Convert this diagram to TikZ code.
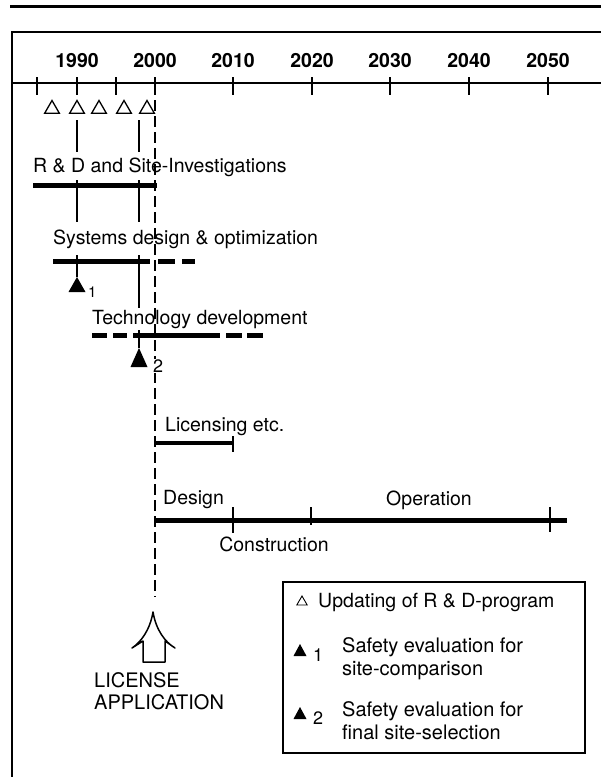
\documentclass[tikz,border=0pt]{standalone}
\usepackage{fontspec}
\setmainfont{TeX Gyre Heros}
\usetikzlibrary{shapes.geometric}
\begin{document}
\begin{tikzpicture}[x=1pt,y=-1pt,
  lbl/.style={inner sep=0pt, anchor=base west, font=\fontsize{19.5}{22}\selectfont},
  yr/.style={inner sep=0pt, anchor=base, font=\fontsize{19.5}{22}\selectfont\bfseries},
  num/.style={inner sep=0pt, anchor=base west, font=\fontsize{18}{20}\selectfont},
  bar/.style={line width=5pt},
  thinbar/.style={line width=3.5pt},
  conn/.style={line width=1.3pt},
  axisline/.style={line width=1.6pt},
  tickline/.style={line width=1.4pt},
  dashconn/.style={line width=1.3pt, dash pattern=on 11pt off 5pt},
  opentri/.style={regular polygon, regular polygon sides=3, draw, line width=1.3pt,
    minimum size=17pt, inner sep=0pt},
  legtri/.style={regular polygon, regular polygon sides=3, draw, line width=0.9pt,
    minimum size=12pt, inner sep=0pt},
]
\useasboundingbox (0,0) rectangle (601,777);
% top rule and frame
\draw[line width=3pt] (10,6) -- (601,6);
\draw[line width=2pt] (601,32) -- (12,32) -- (12,777);
% time axis
\coordinate (axL) at (12,83);
\coordinate (axR) at (601,83);
\draw[axisline] (axL) -- (axR);
\foreach \x/\n in {37/a,77/b,116/c,155/d,233/e,312/f,390/g,469/h,548/i}{
  \coordinate (tk\n) at (\x,77);
  \draw[tickline] (tk\n) -- ++(0,18);
}
\foreach \x/\t in {77/1990,155/2000,233/2010,312/2020,390/2030,469/2040,548/2050}{
  \node[yr] (y\t) at (\x,67) {\t};
}
% updating triangles
\node[opentri] (u1) at (52,109) {};
\node[opentri] (u2) at (77,109) {};
\node[opentri] (u3) at (99,109) {};
\node[opentri] (u4) at (124,109) {};
\node[opentri] (u5) at (147,109) {};
% license application dashed line
\coordinate (lic0) at (155,100);
\coordinate (lic1) at (155,597);
\draw[dashconn] (lic0) -- (lic1);
% R&D
\node[lbl] (rd) at (33,172) {R \& D and Site-Investigations};
\coordinate (rdA) at (33,185);
\coordinate (rdB) at (157,185);
\draw[bar] (rdA) -- (rdB);
\coordinate (a1) at (77,120); \coordinate (a2) at (77,152);
\coordinate (b1) at (139,120); \coordinate (b2) at (139,152);
\draw[conn] (a1) -- (a2);
\draw[conn] (b1) -- (b2);
\coordinate (a3) at (77,180); \coordinate (a4) at (77,222);
\coordinate (b3) at (139,180); \coordinate (b4) at (139,222);
\draw[conn] (a3) -- (a4);
\draw[conn] (b3) -- (b4);
% Systems design
\node[lbl] (sd) at (53,244) {Systems design \& optimization};
\coordinate (sdA) at (53,261);
\coordinate (sdB) at (150,261);
\draw[bar] (sdA) -- (sdB);
\coordinate (sdC) at (158,261); \coordinate (sdD) at (175,261);
\coordinate (sdE) at (182,261); \coordinate (sdF) at (195,261);
\draw[bar] (sdC) -- (sdD);
\draw[bar] (sdE) -- (sdF);
\coordinate (a5) at (77,255); \coordinate (t1) at (77,277);
\draw[conn] (a5) -- (t1);
\fill (t1) -- (85.5,292) -- (68.5,292) -- cycle;
\node[num, font=\fontsize{15}{17}\selectfont] (n1) at (88,297) {1};
\coordinate (b5) at (139,255); \coordinate (b6) at (139,308);
\draw[conn] (b5) -- (b6);
% Technology development
\node[lbl] (td) at (92,324) {Technology development};
\coordinate (tdA) at (92,335); \coordinate (tdB) at (107,335);
\coordinate (tdC) at (113,335); \coordinate (tdD) at (127,335);
\coordinate (tdE) at (133,335); \coordinate (tdF) at (220,335);
\coordinate (tdG) at (226,335); \coordinate (tdH) at (242,335);
\coordinate (tdI) at (247,335); \coordinate (tdJ) at (263,335);
\draw[bar] (tdA) -- (tdB);
\draw[bar] (tdC) -- (tdD);
\draw[bar] (tdE) -- (tdF);
\draw[bar] (tdG) -- (tdH);
\draw[bar] (tdI) -- (tdJ);
\coordinate (b7) at (139,330); \coordinate (t2) at (139,348);
\draw[conn] (b7) -- (t2);
\fill (t2) -- (147.5,367) -- (130.5,367) -- cycle;
\node[num, fill=white, inner sep=0.5pt] (n2) at (152.5,372) {2};
% Licensing
\node[lbl] (li) at (165,431) {Licensing etc.};
\coordinate (liA) at (155,443);
\coordinate (liB) at (233,443);
\draw[thinbar] (liA) -- (liB);
\draw[tickline] (233,436) -- (233,452);
% Design / construction / operation
\node[lbl] (de) at (163,504) {Design};
\node[lbl, anchor=base] (op) at (429,505) {Operation};
\node[lbl, anchor=base] (co) at (274,551) {Construction};
\coordinate (opA) at (155,520);
\coordinate (opB) at (567,520);
\draw[bar] (opA) -- (opB);
\draw[tickline] (233,507) -- (233,533);
\draw[tickline] (311,507) -- (311,525);
\draw[tickline] (550,507) -- (550,532);
% License application arrow
\draw[line width=1.5pt, line join=round]
  (153,612) .. controls (150,630) and (141,642) .. (132,648)
  -- (143,641) -- (143,662) -- (165,662) -- (165,641) -- (175,648)
  .. controls (165,642) and (156,630) .. (153,612) -- cycle;
\node[lbl, font=\fontsize{20}{22}\selectfont] (la1) at (94,687) {LICENSE};
\node[lbl, font=\fontsize{20}{22}\selectfont] (la2) at (94,709) {APPLICATION};
% Legend
\draw[line width=1.6pt] (283,582) rectangle (585,753);
\node[legtri] (lt0) at (302,602) {};
\node[lbl] (lg0) at (318,607) {Updating of R \& D-program};
\fill (300,644) -- (306.5,656) -- (293.5,656) -- cycle;
\node[num] (lg1n) at (313,661) {1};
\node[lbl, font=\fontsize{20}{22}\selectfont] (lg1a) at (342,652) {Safety evaluation for};
\node[lbl, font=\fontsize{20}{22}\selectfont] (lg1b) at (342,675) {site-comparison};
\fill (300,707) -- (306.5,719) -- (293.5,719) -- cycle;
\node[num] (lg2n) at (313,724) {2};
\node[lbl, font=\fontsize{20}{22}\selectfont] (lg2a) at (342,716) {Safety evaluation for};
\node[lbl, font=\fontsize{20}{22}\selectfont] (lg2b) at (342,739) {final site-selection};
\end{tikzpicture}
\end{document}
